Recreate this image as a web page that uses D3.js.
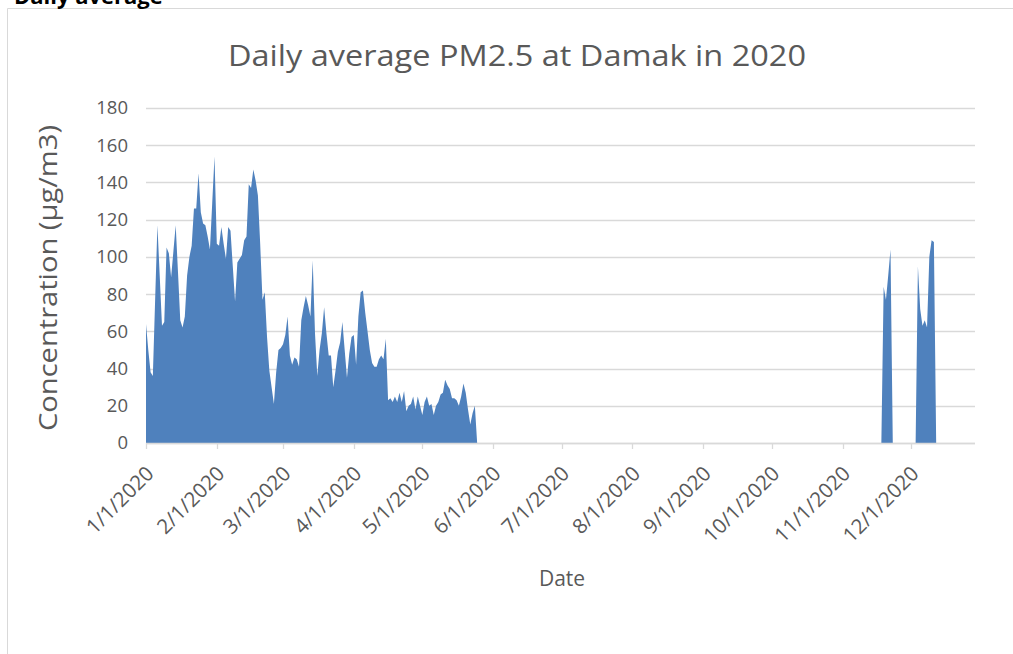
<!DOCTYPE html>
<html>
<head>
<meta charset="utf-8">
<script src="https://cdn.jsdelivr.net/npm/d3@7"></script>
<style>
  html, body { margin: 0; padding: 0; background: #ffffff; }
  svg { display: block; }
  text { font-family: "Open Sans", "Noto Sans", sans-serif; }
</style>
</head>
<body>
<svg id="chart" width="1013" height="654"></svg>
<script>
// ---------------- data ----------------
const chartTitle = "Daily average PM2.5 at Damak in 2020";
const yAxisTitle = "Concentration  (\u00b5g/m3)";
const xAxisTitle = "Date";
const captionAbove = "Daily average";

const yTicks = [0, 20, 40, 60, 80, 100, 120, 140, 160, 180];
const xTickLabels = ["1/1/2020","2/1/2020","3/1/2020","4/1/2020","5/1/2020","6/1/2020",
                     "7/1/2020","8/1/2020","9/1/2020","10/1/2020","11/1/2020","12/1/2020"];

// Segment 1: daily values from 1 Jan 2020
const seg1Start = "2020-01-01";
const seg1Values = [
  64,50,38,36,77,117,90,63,65,105,102,89,103,117,92,66,62,68,90,100,
  106,126,126,145,124,118,117,111,104,129,154,107,106,116,107,99,116,114,95,76,
  97,99,101,109,111,139,137,147,141,133,107,77,81,57,39,30,21,38,50,51,
  53,58,68,47,42,46,45,41,66,73,79,74,68,98,59,36,50,59,73,59,
  47,47,30,39,49,54,65,50,35,48,57,58,42,68,81,82,70,60,50,43,
  41,41,45,47,45,56,23,24,22,25,22,27,22,28,17,20,21,25,18,25,
  20,15,22,25,20,21,15,20,22,26,27,34,31,29,24,24,23,20,25,32,
  27,18,10,16,20
];
// Segment 2: daily values from 19 Nov 2020
const seg2Start = "2020-11-19";
const seg2Values = [84, 77, 90, 104];
// Segment 3: daily values from 4 Dec 2020
const seg3Start = "2020-12-04";
const seg3Values = [95, 72, 63, 66, 62, 100, 109, 108];

const axisStart = "2020-01-01";
const axisEnd = "2020-12-29";

// ---------------- drawing ----------------
const svg = d3.select("#chart");
const W = 1013, H = 654;
const margin = {left: 146, right: W - 975, top: 108, bottom: H - 443};

const parse = d3.utcParse("%Y-%m-%d");
const DAY = 86400000;

const x = d3.scaleUtc()
  .domain([parse(axisStart), parse(axisEnd)])
  .range([margin.left, W - margin.right]);
const y = d3.scaleLinear()
  .domain([0, 180])
  .range([H - margin.bottom, margin.top]);

const gridColor = "#d9d9d9";
const textColor = "#595959";
const fillColor = "#4f81bd";

// outer chart frame (only top and left visible in the crop)
svg.append("path")
  .attr("d", `M7.5,${H} L7.5,8.5 L${W},8.5`)
  .attr("fill", "none")
  .attr("stroke", gridColor)
  .attr("stroke-width", 1);

// caption text of the surrounding document, cut off at the top as in the source
svg.append("text")
  .attr("x", 14)
  .attr("y", 4)
  .attr("font-size", 22)
  .attr("font-weight", "bold")
  .attr("fill", "#000")
  .text(captionAbove);

// gridlines
svg.append("g")
  .selectAll("line")
  .data(yTicks)
  .join("line")
  .attr("x1", x.range()[0])
  .attr("x2", x.range()[1])
  .attr("y1", d => Math.round(y(d)) + 0.5)
  .attr("y2", d => Math.round(y(d)) + 0.5)
  .attr("stroke", gridColor)
  .attr("stroke-width", 1.3);

// y tick labels
svg.append("g")
  .selectAll("text")
  .data(yTicks)
  .join("text")
  .attr("x", 128)
  .attr("y", d => y(d))
  .attr("dy", "0.35em")
  .attr("text-anchor", "end")
  .attr("font-size", 18.5)
  .attr("fill", textColor)
  .text(d => d);

// area segments (Excel draws blanks as zero: drop to 0 the day before/after)
function segmentPoints(start, values) {
  const s = parse(start);
  const pts = [{date: new Date(s.getTime() - DAY), v: 0}];
  values.forEach((v, i) => pts.push({date: new Date(s.getTime() + i * DAY), v}));
  pts.push({date: new Date(s.getTime() + values.length * DAY), v: 0});
  return pts;
}
const segments = [
  segmentPoints(seg1Start, seg1Values).filter(p => p.date >= parse(axisStart)),
  segmentPoints(seg2Start, seg2Values),
  segmentPoints(seg3Start, seg3Values)
];
const area = d3.area()
  .x(d => x(d.date))
  .y0(y(0))
  .y1(d => y(d.v));
svg.append("g")
  .selectAll("path")
  .data(segments)
  .join("path")
  .attr("d", area)
  .attr("fill", fillColor);

// x axis line
svg.append("line")
  .attr("x1", x.range()[0])
  .attr("x2", x.range()[1])
  .attr("y1", Math.round(y(0)) + 0.5)
  .attr("y2", Math.round(y(0)) + 0.5)
  .attr("stroke", gridColor)
  .attr("stroke-width", 1.3);

// month ticks
const monthTicks = xTickLabels.map((lab, i) => ({date: new Date(Date.UTC(2020, i, 1)), lab}));
svg.append("g")
  .selectAll("line")
  .data(monthTicks)
  .join("line")
  .attr("x1", d => Math.round(x(d.date)) + 0.5)
  .attr("x2", d => Math.round(x(d.date)) + 0.5)
  .attr("y1", y(0))
  .attr("y2", y(0) + 6)
  .attr("stroke", gridColor)
  .attr("stroke-width", 1.3);

svg.append("g")
  .selectAll("text")
  .data(monthTicks)
  .join("text")
  .attr("transform", d => `translate(${x(d.date) + 9},${y(0) + 32}) rotate(-45)`)
  .attr("text-anchor", "end")
  .attr("font-size", 20.5)
  .attr("fill", textColor)
  .text(d => d.lab);

// titles
svg.append("text")
  .attr("x", 517)
  .attr("y", 66)
  .attr("text-anchor", "middle")
  .attr("font-size", 29)
  .attr("fill", textColor)
  .attr("textLength", 578)
  .attr("lengthAdjust", "spacingAndGlyphs")
  .text(chartTitle);

svg.append("text")
  .attr("transform", "translate(57,278) rotate(-90)")
  .attr("text-anchor", "middle")
  .attr("font-size", 25)
  .attr("fill", textColor)
  .attr("textLength", 306)
  .attr("lengthAdjust", "spacingAndGlyphs")
  .text(yAxisTitle);

svg.append("text")
  .attr("x", 562)
  .attr("y", 586)
  .attr("text-anchor", "middle")
  .attr("font-size", 21)
  .attr("fill", textColor)
  .text(xAxisTitle);
</script>
</body>
</html>
